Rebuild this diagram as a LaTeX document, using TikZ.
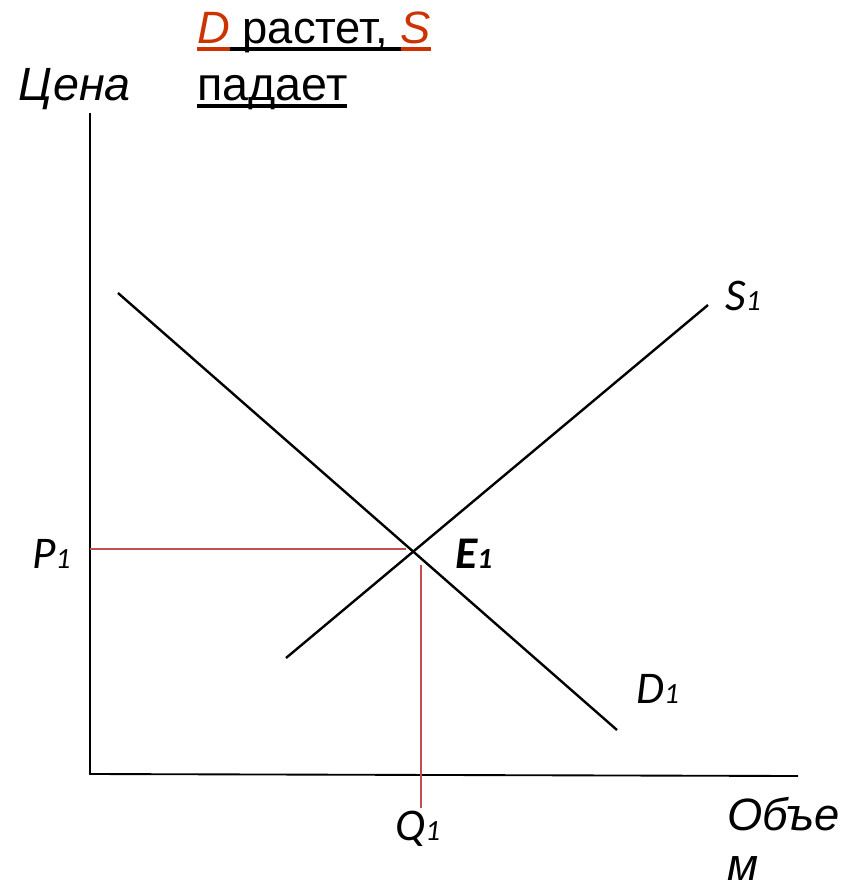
\documentclass[tikz,border=0pt]{standalone}
\usepackage{fontspec}
\setmainfont{Liberation Sans}
\newfontfamily\latinlbl{Carlito}
\usepackage{xcolor}
\definecolor{titlered}{RGB}{204,51,0}
\definecolor{guidered}{RGB}{192,80,77}
\newcommand{\idx}[1]{{\fontsize{22}{22}\selectfont #1}}
\newcommand{\ulx}[1]{\setbox0\hbox{#1}\rlap{\rule[-5.8pt]{\wd0}{2.6pt}}\box0}

\begin{document}
\begin{tikzpicture}[x=0.75pt, y=-0.75pt,
  axis/.style={line width=1.4pt},
  curve/.style={line width=1.8pt},
  guide/.style={guidered, line width=1.1pt},
  lbl/.style={anchor=base west, inner sep=0pt, font=\fontsize{34}{34}\selectfont\itshape},
  var/.style={lbl, font=\latinlbl\fontsize{34}{34}\selectfont\itshape}]
\useasboundingbox (0,0) rectangle (851,890);
% axes
\coordinate (origin) at (90,774);
\coordinate (ytop) at (90,113);
\coordinate (xend) at (798,776);
\draw[axis] (ytop) -- (origin) -- (xend);
% demand and supply
\coordinate (d1a) at (118,293);
\coordinate (d1b) at (617,730);
\coordinate (s1a) at (286,658);
\coordinate (s1b) at (708,305);
\draw[curve] (d1a) -- (d1b);
\draw[curve] (s1a) -- (s1b);
% equilibrium guides
\coordinate (p1end) at (406,549);
\coordinate (q1top) at (421,565);
\coordinate (q1bot) at (421,808);
\draw[guide] (origin |- p1end) -- (p1end);
\draw[guide] (q1top) -- (q1bot);
% labels
\node[lbl, font=\fontsize{35}{35}\selectfont\itshape] (price) at (18,100) {Цена};
\node[lbl, font=\fontsize{34}{34}\selectfont] (title1) at (197,43)
  {\textcolor{titlered}{\ulx{\textit{D}}}\ulx{ растет, }\textcolor{titlered}{\ulx{\textit{S}}}};
\node[lbl, font=\fontsize{35}{35}\selectfont] (title2) at (197,100) {\ulx{падает}};
\node[var] (p1) at (32,568) {P\idx{1}};
\node[var, font=\latinlbl\fontsize{34}{34}\selectfont\bfseries\itshape] (e1) at (455,568) {E\idx{1}};
\node[var] (s1) at (725,310) {S\idx{1}};
\node[var] (d1) at (636,703) {D\idx{1}};
\node[var] (q1) at (395,840) {Q\idx{1}};
\node[lbl] (vol1) at (727,830) {Объе};
\node[lbl] (vol2) at (727,880) {м};
\end{tikzpicture}
\end{document}
